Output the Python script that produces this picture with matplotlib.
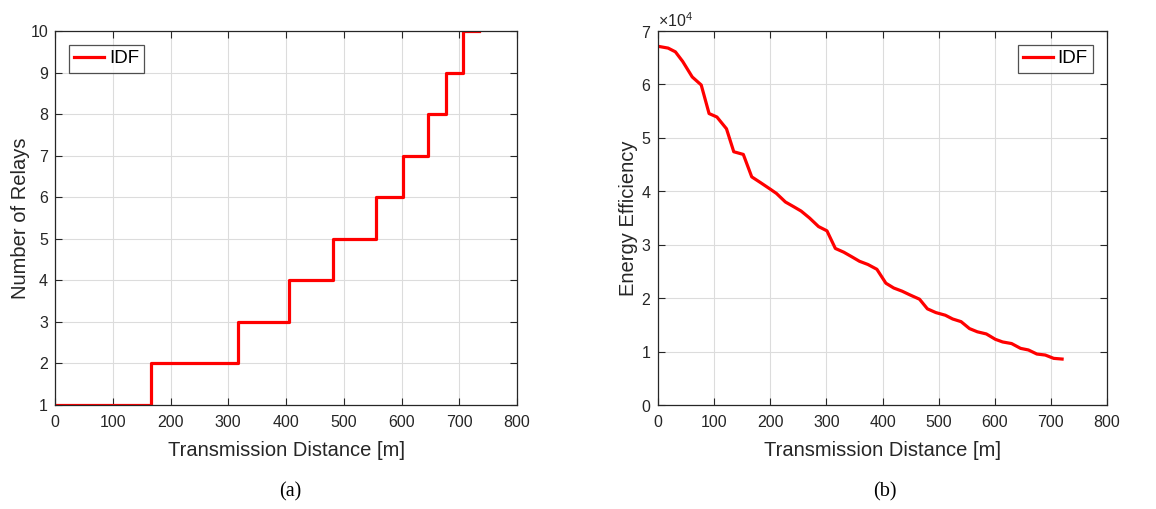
import matplotlib
matplotlib.use("Agg")
import matplotlib.pyplot as plt
from matplotlib.ticker import ScalarFormatter

plt.rcParams['font.family'] = ['Liberation Sans', 'DejaVu Sans']
plt.rcParams['mathtext.fontset'] = 'custom'
plt.rcParams['mathtext.rm'] = 'Liberation Sans'

# Relay count vs. transmission distance (step boundaries in metres)
relay_dist = [0, 166, 317, 406, 481, 556, 602, 646, 677, 707, 735]
relay_count = [1, 2, 3, 4, 5, 6, 7, 8, 9, 10, 10]

# Energy efficiency vs. transmission distance
ee_dist = [0, 18, 31, 44, 61, 77, 91, 105, 122, 135, 152, 167, 183, 200, 211,
           227, 242, 255, 270, 286, 301, 316, 331, 346, 359, 374, 390, 406,
           420, 435, 449, 466, 480, 495, 512, 525, 540, 555, 569, 585, 601,
           614, 630, 646, 660, 675, 690, 705, 720]
ee_value = [67140, 66800, 66100, 64300, 61400, 59900, 54550, 53900, 51700,
            47400, 46900, 42700, 41600, 40400, 39600, 38000, 37100, 36300,
            35000, 33400, 32600, 29300, 28600, 27700, 26900, 26300, 25400,
            22800, 21900, 21300, 20600, 19800, 18000, 17300, 16800, 16100,
            15600, 14300, 13700, 13300, 12300, 11800, 11500, 10600, 10300,
            9540, 9350, 8730, 8600]

W, H = 1156, 509
fig = plt.figure(figsize=(W / 100, H / 100), dpi=100)

text_c = '#262626'
red = '#ff0000'


def style(ax):
    ax.grid(True, color='#dcdcdc', linewidth=0.8)
    ax.set_axisbelow(True)
    for s in ax.spines.values():
        s.set_color(text_c)
        s.set_linewidth(0.9)
    ax.tick_params(direction='in', length=5, width=0.8, colors=text_c,
                   labelsize=11.5, top=True, right=True)
    ax.tick_params(axis='x', pad=7)
    ax.tick_params(axis='y', pad=5)


def legend(ax, loc):
    leg = ax.legend(loc=loc, fontsize=13.5, frameon=True, fancybox=False,
                    edgecolor=text_c, handlelength=1.6, handletextpad=0.25,
                    borderpad=0.28, borderaxespad=0.75)
    leg.get_frame().set_linewidth(0.9)


ax1 = fig.add_axes([55 / W, 1 - 405 / H, 462 / W, 374 / H])
ax1.step(relay_dist, relay_count, where='post', color=red, lw=2.3, label='IDF')
ax1.set_xlim(0, 800)
ax1.set_ylim(1, 10)
ax1.set_xticks(range(0, 801, 100))
ax1.set_yticks(range(1, 11))
style(ax1)
ax1.set_xlabel('Transmission Distance [m]', fontsize=14.5, color=text_c, labelpad=8)
ax1.set_ylabel('Number of Relays', fontsize=14.5, color=text_c, labelpad=0)
legend(ax1, 'upper left')

ax2 = fig.add_axes([658 / W, 1 - 405 / H, 449 / W, 374 / H])
ax2.plot(ee_dist, ee_value, color=red, lw=2.3, label='IDF')
ax2.set_xlim(0, 800)
ax2.set_ylim(0, 70000)
ax2.set_xticks(range(0, 801, 100))
ax2.set_yticks(range(0, 70001, 10000))
fmt = ScalarFormatter(useMathText=True)
fmt.set_powerlimits((0, 0))
ax2.yaxis.set_major_formatter(fmt)
style(ax2)
ax2.yaxis.get_offset_text().set_fontsize(11.5)
ax2.yaxis.get_offset_text().set_color(text_c)
ax2.set_xlabel('Transmission Distance [m]', fontsize=14.5, color=text_c, labelpad=8)
ax2.set_ylabel('Energy Efficiency', fontsize=14.5, color=text_c, labelpad=2)
legend(ax2, 'upper right')

fig.text(290 / W, 1 - 492 / H, '(a)', ha='center', va='center',
         fontsize=14.5, family='Liberation Serif')
fig.text(885 / W, 1 - 492 / H, '(b)', ha='center', va='center',
         fontsize=14.5, family='Liberation Serif')

fig.savefig('out.png', dpi=100)
